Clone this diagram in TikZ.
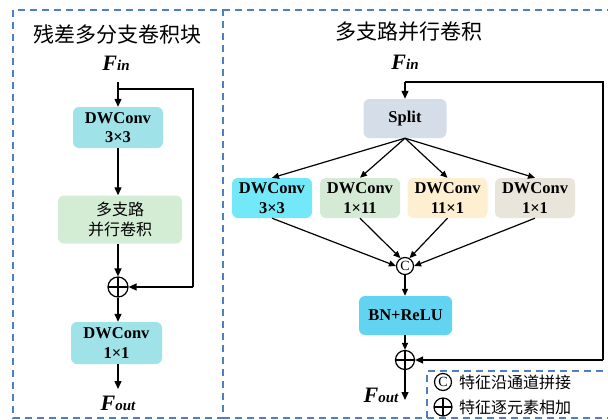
\documentclass[tikz,border=0pt]{standalone}
\usepackage{fontspec}
\setmainfont{Liberation Serif}
\newfontfamily\cjk{Noto Sans CJK SC}
\usetikzlibrary{arrows.meta}
\definecolor{frameblue}{HTML}{4C7FC4}
\definecolor{cyanA}{HTML}{9FE2E8}
\definecolor{greenA}{HTML}{D3EDD5}
\definecolor{cyanB}{HTML}{72E8F9}
\definecolor{greenB}{HTML}{D5EAD5}
\definecolor{creamB}{HTML}{FDEFD0}
\definecolor{beigeB}{HTML}{E9E5DA}
\definecolor{bnblue}{HTML}{62D4F2}
\definecolor{splitgray}{HTML}{D5DDE9}
\begin{document}
\begin{tikzpicture}[x=1pt,y=-1pt,
  box/.style={rounded corners=6pt, draw=none, align=center, inner sep=0pt,
    font=\fontsize{16.5}{19.5}\selectfont\bfseries},
  cnbox/.style={rounded corners=6pt, draw=none, align=center, inner sep=0pt,
    font=\cjk\fontsize{16}{20.5}\selectfont},
  arr/.style={-{Triangle[length=8pt,width=7pt]}, line width=1.3pt},
  sarr/.style={-{Triangle[length=7pt,width=6pt]}, line width=1.2pt},
  ln/.style={line width=1.3pt},
  frame/.style={draw=frameblue, line width=1.3pt, dash pattern=on 7pt off 5pt},
  plusnode/.style={circle, draw, line width=1.2pt, minimum size=#1, inner sep=0pt,
    path picture={\draw[line width=1.1pt] (path picture bounding box.north) -- (path picture bounding box.south)
      (path picture bounding box.west) -- (path picture bounding box.east);}},
  cnode/.style={circle, draw, line width=1.2pt, minimum size=#1, inner sep=0pt,
    font=\fontsize{14}{14}\selectfont},
  title/.style={font=\cjk\fontsize{21}{21}\selectfont},
  lgd/.style={font=\cjk\fontsize{16}{16}\selectfont, anchor=west, inner sep=0pt}
]
\useasboundingbox (0,0) rectangle (608,420);
\clip (0,0) rectangle (608,420);
\fill[white] (0,0) rectangle (608,420);

% frames
\draw[frame] (13,10) rectangle (223,418);
\draw[frame] (223,10) -- (620,10);
\draw[frame] (223,418) -- (620,418);
\draw[frame] (427,418) -- (427,371) -- (620,371);

% ---------------- left panel ----------------
\node[title] (lt) at (118,35) {残差多分支卷积块};
\node (lfin) at (116,63) {\fontsize{22}{22}\selectfont\bfseries\itshape F\fontsize{15}{15}\selectfont in};
\coordinate (lj) at (118,89);
\coordinate (ls) at (118,82);
\node[box, fill=cyanA, minimum width=90pt, minimum height=41pt] (ldw1) at (118,127.5) {DWConv\\3×3};
\node[cnbox, fill=greenA, minimum width=124pt, minimum height=48pt] (lgr) at (120,219.5) {多支路\\并行卷积};
\node[plusnode=20pt] (lplus) at (118,287) {};
\node[box, fill=cyanA, minimum width=91pt, minimum height=42pt] (ldw2) at (116.5,343) {DWConv\\1×1};
\node (lfout) at (118,403) {\fontsize{22}{22}\selectfont\bfseries\itshape F\fontsize{15}{15}\selectfont out};
\coordinate (lfe) at (118,389);
\coordinate (lr1) at (193,89);
\coordinate (lr2) at (193,287);

\draw[arr] (ls) -- (ldw1.north);
\draw[arr] (ldw1.south) -- (ldw1.south |- lgr.north);
\draw[arr] (lplus.north |- lgr.south) -- (lplus.north);
\draw[arr] (lplus.south) -- (lplus.south |- ldw2.north);
\draw[arr] (lplus.south |- ldw2.south) -- (lfe);
\draw[ln] (lj) -- (lr1) -- (lr2);
\draw[arr] (lr2) -- (lplus.east);

% ---------------- right panel ----------------
\node[title] (rt) at (409,32) {多支路并行卷积};
\node (rfin) at (405,62) {\fontsize{22}{22}\selectfont\bfseries\itshape F\fontsize{15}{15}\selectfont in};
\coordinate (rj) at (405,82);
\node[box, fill=splitgray, minimum width=83pt, minimum height=39pt] (split) at (405,118.5) {Split};
\node[box, fill=cyanB, minimum width=80pt, minimum height=40pt] (b1) at (272,198) {DWConv\\3×3};
\node[box, fill=greenB, minimum width=80pt, minimum height=40pt] (b2) at (360,198) {DWConv\\1×11};
\node[box, fill=creamB, minimum width=80pt, minimum height=40pt] (b3) at (447.5,198) {DWConv\\11×1};
\node[box, fill=beigeB, minimum width=80pt, minimum height=40pt] (b4) at (535,198) {DWConv\\1×1};
\node[cnode=17pt] (cat) at (405,266) {C};
\node[box, fill=bnblue, minimum width=93pt, minimum height=39pt] (bn) at (405.5,315.5) {BN+ReLU};
\node[plusnode=19pt] (rplus) at (405,360) {};
\coordinate (rfe) at (405,400);
\node (rfout) at (381,395) {\fontsize{22}{22}\selectfont\bfseries\itshape F\fontsize{15}{15}\selectfont out};
\coordinate (rr1) at (603,82);
\coordinate (rr2) at (603,360);

\draw[arr] (rj) -- (split.north);
\foreach \b in {b1,b2,b3,b4} \draw[sarr] (split.south) -- (\b.north);
\draw[sarr] (b1.south) -- (cat.west);
\draw[sarr] (b2.south) -- (cat.120);
\draw[sarr] (b3.south) -- (cat.60);
\draw[sarr] (b4.south) -- (cat.east);
\draw[sarr] (cat.south) -- (cat.south |- bn.north);
\draw[sarr] (rplus.north |- bn.south) -- (rplus.north);
\draw[arr] (rplus.south) -- (rfe);
\draw[ln] (rj) -- (rr1) -- (rr2);
\draw[arr] (rr2) -- (rplus.east);

% ---------------- legend ----------------
\node[cnode=17pt] (lgc) at (443,382) {C};
\node[lgd] (lgct) at (459,382) {特征沿通道拼接};
\node[plusnode=18pt] (lgp) at (443,407) {};
\node[lgd] (lgpt) at (459,407) {特征逐元素相加};
\end{tikzpicture}
\end{document}
